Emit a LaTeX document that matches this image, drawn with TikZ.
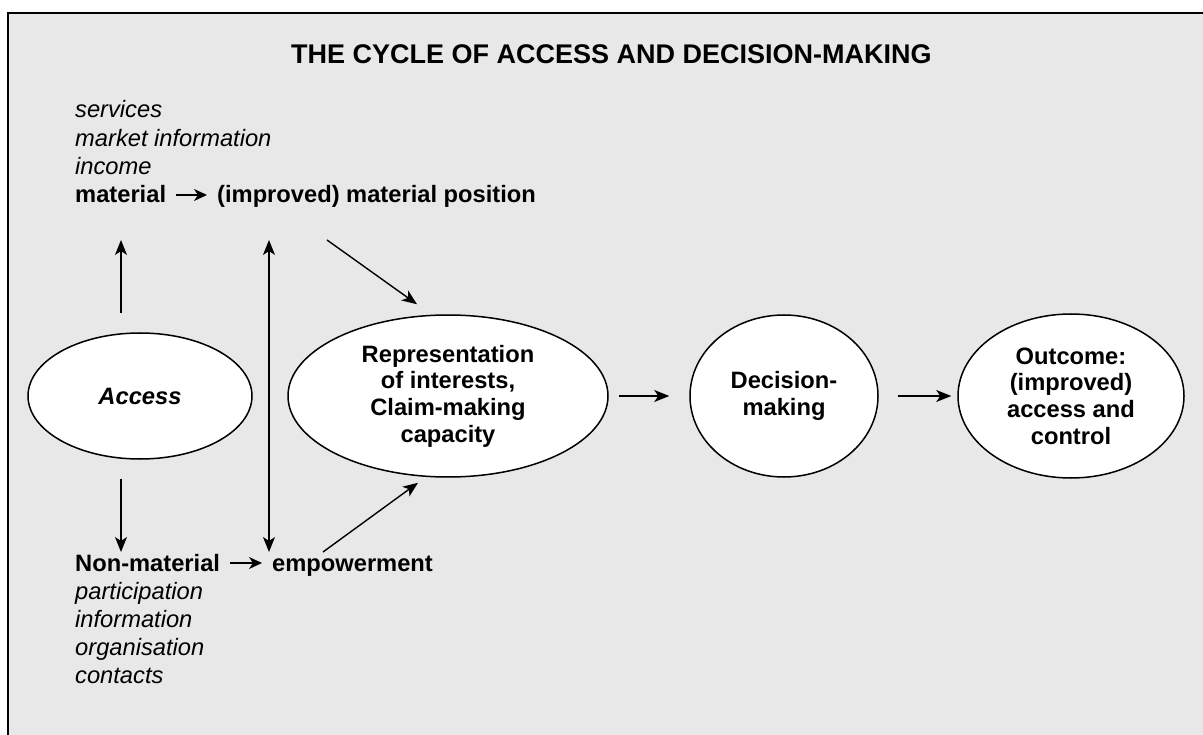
\documentclass[tikz,border=0pt]{standalone}
\usepackage{fontspec}
\setmainfont{Liberation Sans}
\usetikzlibrary{shapes.geometric,arrows.meta}
\definecolor{bggray}{RGB}{232,232,232}
\begin{document}
\begin{tikzpicture}[x=1pt,y=-1pt,
  txt/.style={inner sep=0pt, anchor=base west},
  lbl/.style={txt, font=\fontsize{23.7}{28.3}\selectfont\bfseries},
  itl/.style={txt, font=\fontsize{23.7}{28.3}\selectfont\itshape},
  oval/.style={ellipse, draw, fill=white, line width=1.5pt, inner sep=0pt, align=center, font=\fontsize{23.7}{26.7}\selectfont\bfseries},
  arr/.style={line width=1.4pt, -{Stealth[length=15pt,width=12pt,inset=4pt]}},
  darr/.style={line width=1.4pt, {Stealth[length=15pt,width=12pt,inset=4pt]}-{Stealth[length=15pt,width=12pt,inset=4pt]}},
  sarr/.style={line width=1.4pt, -{Stealth[length=13pt,width=12pt,inset=4pt]}}
]
\useasboundingbox (0,0) rectangle (1203,735);
\clip (0,0) rectangle (1203,735);
\fill[white] (0,0) rectangle (1203,735);
\draw[line width=2pt, fill=bggray] (8,13) rectangle (1220,750);

\node[txt, font=\fontsize{27}{32}\selectfont\bfseries] (title) at (291,64) {THE CYCLE OF ACCESS AND DECISION-MAKING};

\node[itl] (s1) at (75,118) {services};
\node[itl] (s2) at (75,146.3) {market information};
\node[itl] (s3) at (75,174.6) {income};
\node[lbl] (mat) at (75,203) {material};
\node[lbl] (imp) at (217,203) {(improved) material position};
\draw[sarr] ([xshift=10pt, yshift=8pt]mat.base east) -- ([xshift=-10pt,yshift=8pt]imp.base west);

\node[lbl] (nonmat) at (75,571) {Non-material};
\node[lbl] (emp) at (272,571) {empowerment};
\draw[sarr] ([xshift=10pt, yshift=8pt]nonmat.base east) -- ([xshift=-10pt,yshift=8pt]emp.base west);
\node[itl] (p1) at (75,599) {participation};
\node[itl] (p2) at (75,627) {information};
\node[itl] (p3) at (75,655) {organisation};
\node[itl] (p4) at (75,683) {contacts};

\node[oval, minimum width=224pt, minimum height=126pt, font=\fontsize{23.7}{26.7}\selectfont\bfseries\itshape] (acc) at (140,396) {Access};
\node[oval, minimum width=320pt, minimum height=162pt] (rep) at (448,396) {Representation\\of interests,\\Claim-making\\capacity};
\node[oval, minimum width=188pt, minimum height=162pt] (dec) at (784,396) {Decision-\\making};
\node[oval, minimum width=226pt, minimum height=164pt] (out) at (1071,396) {Outcome:\\(improved)\\access and\\control};

\draw[arr, shorten <=10pt, shorten >=20pt] (rep.east) -- (dec.west);
\draw[arr, shorten <=19pt, shorten >=6pt] (dec.east) -- (out.west);

\coordinate (upend) at (121,240);
\coordinate (dnend) at (121,552);
\draw[arr] ([xshift=-19pt,yshift=19pt]acc.north) -- (upend);
\draw[arr] ([xshift=-19pt,yshift=-19pt]acc.south) -- (dnend);

\coordinate (dtop) at (269,240);
\coordinate (dbot) at (269,552);
\draw[darr] (dtop) -- (dbot);

\coordinate (ua) at (327,240);
\coordinate (la) at (323,552);
\draw[arr] (ua) -- ([xshift=-31pt,yshift=10pt]rep.north);
\draw[arr] (la) -- ([xshift=-30pt,yshift=-5pt]rep.south);
\end{tikzpicture}
\end{document}
